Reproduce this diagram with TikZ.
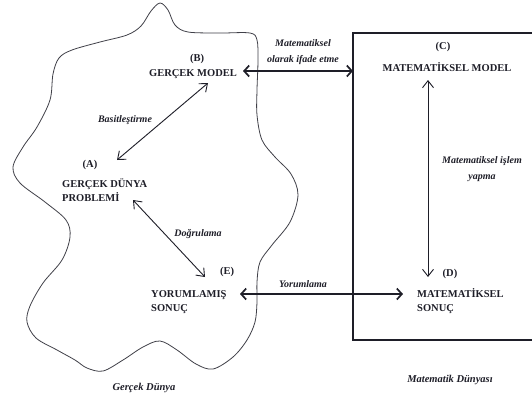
\documentclass[tikz,border=0pt]{standalone}
\usepackage{fontspec}
\setmainfont{Liberation Serif}
\usetikzlibrary{arrows.meta}
\definecolor{ink}{HTML}{1E1E28}

\begin{document}
\begin{tikzpicture}[
  x=1pt, y=-1pt,
  every node/.style={inner sep=0pt, text=ink},
  stage/.style={font=\fontsize{10.5}{14}\selectfont\bfseries, align=left},
  tag/.style={font=\fontsize{10.5}{14}\selectfont\bfseries},
  verb/.style={font=\fontsize{10}{16}\selectfont\bfseries\itshape, align=center},
  world/.style={font=\fontsize{10.5}{12}\selectfont\bfseries\itshape},
  wide/.style={{Straight Barb[length=5pt,width=11pt]}-{Straight Barb[length=5pt,width=11pt]},
    line width=1.7pt, draw=ink},
  slim/.style={{Straight Barb[length=7pt,width=11pt]}-{Straight Barb[length=7pt,width=11pt]},
    line width=0.9pt, draw=ink},
  frame/.style={line width=2.3pt, draw=ink},
  blob/.style={line width=0.8pt, draw=ink!85},
]
  \useasboundingbox[fill=white] (0,0) rectangle (532,400);

  % real world outline
  \draw[blob] plot[smooth cycle, tension=0.55] coordinates {
    (160,3) (168,10) (175,25) (188,32) (220,33) (250,33) (257,40) (258,60)
    (257,90) (257,115) (262,140) (275,157) (291,174) (298,195) (290,222)
    (272,245) (260,262) (257,282) (257,302) (255,322) (247,340) (233,357)
    (213,369) (196,364) (177,350) (160,341) (143,347) (123,360) (103,371)
    (87,368) (75,360) (57,350) (36,338) (27,322) (30,306) (43,283) (62,260)
    (70,237) (66,220) (45,202) (20,183) (13,167) (23,147) (37,127) (50,100)
    (53,74) (59,58) (72,50) (100,42) (127,35) (141,26) (151,11)};

  % mathematical world frame
  \coordinate (boxNE) at (533,33);
  \coordinate (boxNW) at (353,33);
  \coordinate (boxSW) at (353,340);
  \coordinate (boxSE) at (533,340);
  \draw[frame] (boxNE) -- (boxNW) -- (boxSW) -- (boxSE);

  % stages (two-line nodes sit on their last line)
  \node[tag, anchor=base] (tagB) at (197,61) {(B)};
  \node[stage, anchor=base] (modelB) at (193,76) {GERÇEK MODEL};
  \node[tag, anchor=base] (tagC) at (443,49) {(C)};
  \node[stage, anchor=base] (modelC) at (447,71) {MATEMATİKSEL MODEL};
  \node[tag, anchor=base] (tagA) at (90,167) {(A)};
  \node[stage, anchor=base west] (probA) at (62,201) {GERÇEK DÜNYA\\PROBLEMİ};
  \node[tag, anchor=base] (tagE) at (227,274) {(E)};
  \node[stage, anchor=base west] (resE) at (151,311) {YORUMLAMIŞ\\SONUÇ};
  \node[tag, anchor=base] (tagD) at (450,276) {(D)};
  \node[stage, anchor=base west] (resD) at (417,311) {MATEMATİKSEL\\SONUÇ};

  % arrow ends
  \coordinate (abLow)  at (117,160);
  \coordinate (abHigh) at (208,83);
  \coordinate (aeHigh) at (133,200);
  \coordinate (aeLow)  at (205,277);
  \coordinate (cdHigh) at (428,80);
  \coordinate (cdLow)  at (428,277);
  \coordinate (bcLeft) at (243,71);
  \coordinate (edLeft) at (240,294);
  \coordinate (edRight) at (403,294);

  \draw[wide] (bcLeft) -- (boxNW |- bcLeft);
  \draw[slim] (abLow) -- (abHigh);
  \draw[slim] (aeHigh) -- (aeLow);
  \draw[slim] (cdHigh) -- (cdLow);
  \draw[wide] (edLeft) -- (edRight);

  % step labels
  \node[verb, anchor=base] (formul) at (303,62) {Matematiksel\\olarak ifade etme};
  \node[verb, anchor=base] (basit) at (125,122) {Basitleştirme};
  \node[verb, anchor=base] (dogru) at (198,236) {Doğrulama};
  \node[verb, anchor=base] (yorum) at (303,287) {Yorumlama};
  \node[verb, anchor=base] (islem) at (482,179) {Matematiksel işlem\\yapma};

  \node[world, anchor=base] (realW) at (144,390) {Gerçek Dünya};
  \node[world, anchor=base] (mathW) at (450,382) {Matematik Dünyası};
\end{tikzpicture}
\end{document}
